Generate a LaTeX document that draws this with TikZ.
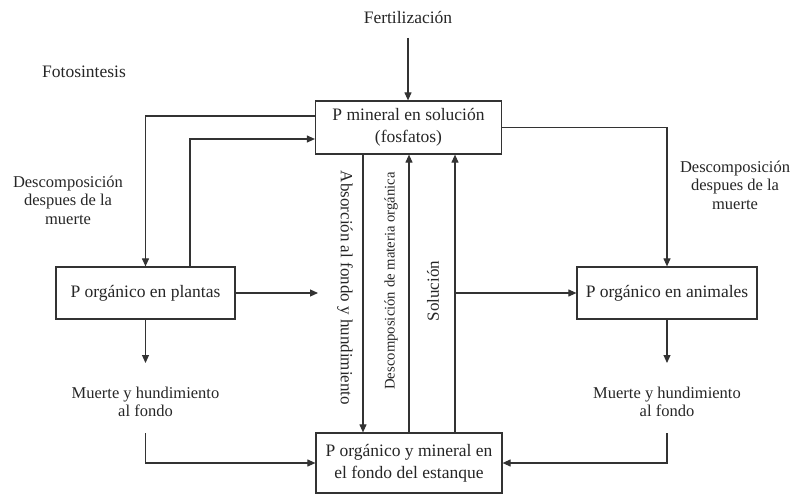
\documentclass[tikz,border=0pt]{standalone}
\usepackage{fontspec}
\setmainfont{Liberation Serif}
\usetikzlibrary{arrows.meta,calc}
\begin{document}
\begin{tikzpicture}[x=1pt,y=-1pt,
  line width=1.1pt, draw=black!80, text=black!85,
  arr/.style={-{Triangle[length=8pt,width=7pt]}},
  box/.style={draw, line width=1.2pt, align=center, inner sep=0pt,
              font=\fontsize{17.5}{22}\selectfont},
  lbl/.style={align=center, font=\fontsize{16.5}{18.5}\selectfont},
  big/.style={align=center, font=\fontsize{17.5}{22}\selectfont},
  vtext/.style={font=\fontsize{17}{20}\selectfont}]
\useasboundingbox (0,0) rectangle (801,495);

% boxes
\node[box, minimum width=186pt, minimum height=53pt] (top) at (408.5,127.5) {P mineral en solución\\(fosfatos)};
\node[box, minimum width=179pt, minimum height=52pt] (plants) at (145.5,293) {P orgánico en plantas};
\node[box, minimum width=180pt, minimum height=52pt] (animals) at (667,293) {P orgánico en animales};
\node[box, minimum width=186pt, minimum height=60pt] (bottom) at (409,463) {P orgánico y mineral en\\el fondo del estanque};

% free labels
\node[big] (fert) at (408,18) {Fertilización};
\node[big] (foto) at (84,72) {Fotosintesis};
\node[lbl] (descL) at (68,200) {Descomposición\\despues de la\\muerte};
\node[lbl] (descR) at (735,185) {Descomposición\\despues de la\\muerte};
\node[lbl] (muerteL) at (145.5,402) {Muerte y hundimiento\\al fondo};
\node[lbl] (muerteR) at (667,402) {Muerte y hundimiento\\al fondo};

% vertical labels
\node[vtext, rotate=-90] (absor) at (345,288) {Absorción al fondo y hundimiento};
\node[vtext, rotate=90, font=\fontsize{14.7}{18}\selectfont] (descM) at (391,281) {Descomposición de materia orgánica};
\node[vtext, rotate=90] (solu) at (433,291) {Solución};

% helper coordinates
\coordinate (fertstart) at (408,38);
\coordinate (pe) at (318,293);
\coordinate (pdown) at (145.5,363);
\coordinate (adown) at (667,363);
\coordinate (lstart) at (145.5,433);
\coordinate (rstart) at (667,433);
\coordinate (a1) at (363,0);
\coordinate (a2) at (409,0);
\coordinate (a3) at (455,0);
\coordinate (p1) at (190,0);

% connectors
\draw[arr] (fertstart) -- (top.north -| fertstart);
\draw[arr] ([yshift=11.5pt]top.west) -| (plants.north);
\draw[arr] (p1 |- plants.north) |- ([yshift=-11.5pt]top.west);
\draw[arr] (top.east) -| (animals.north);
\draw[arr] (plants.east) -- (pe);
\draw[arr] (plants.south) -- (pdown);
\draw[arr] (animals.south) -- (adown);
\draw[arr] (lstart) |- (bottom.west);
\draw[arr] (rstart) |- (bottom.east);
\draw[arr] (a1 |- top.south) -- (a1 |- bottom.north);
\draw[arr] (a2 |- bottom.north) -- (a2 |- top.south);
\draw[arr] (a3 |- bottom.north) -- (a3 |- top.south);
\draw[arr] (a3 |- animals.west) -- (animals.west);
\end{tikzpicture}
\end{document}
